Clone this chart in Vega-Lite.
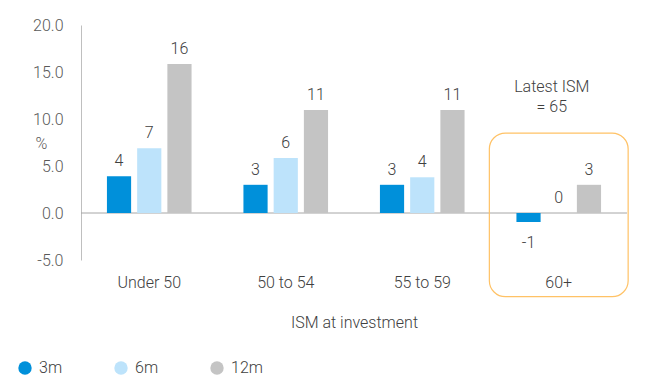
{
  "$schema": "https://vega.github.io/schema/vega-lite/v6.json",
  "width": 546,
  "height": 235,
  "autosize": {"type": "none"},
  "padding": {"left": 81, "top": 25, "right": 30, "bottom": 132},
  "config": {
    "font": "Roboto",
    "view": {"stroke": null},
    "locale": {"number": {"decimal": ".", "thousands": ",", "grouping": [3], "currency": ["$", ""], "minus": "-"}}
  },
  "data": {
    "values": [
      {"cat": "Under 50", "series": "3m", "value": 3.9},
      {"cat": "Under 50", "series": "6m", "value": 6.9},
      {"cat": "Under 50", "series": "12m", "value": 15.85},
      {"cat": "50 to 54", "series": "3m", "value": 3.0},
      {"cat": "50 to 54", "series": "6m", "value": 5.85},
      {"cat": "50 to 54", "series": "12m", "value": 10.95},
      {"cat": "55 to 59", "series": "3m", "value": 3.0},
      {"cat": "55 to 59", "series": "6m", "value": 3.8},
      {"cat": "55 to 59", "series": "12m", "value": 10.95},
      {"cat": "60+", "series": "3m", "value": -0.96},
      {"cat": "60+", "series": "6m", "value": 0},
      {"cat": "60+", "series": "12m", "value": 3.0}
    ]
  },
  "encoding": {
    "x": {
      "field": "cat", "type": "nominal",
      "sort": ["Under 50", "50 to 54", "55 to 59", "60+"],
      "scale": {"paddingInner": 0.38, "paddingOuter": 0.19},
      "axis": {
        "title": "ISM at investment", "domain": false, "ticks": false, "labelAngle": 0,
        "labelFontSize": 16, "labelColor": "#404040", "labelFontWeight": 300, "labelPadding": 14,
        "titleFontSize": 16, "titleColor": "#404040", "titleFontWeight": 300, "titlePadding": 24
      }
    }
  },
  "layer": [
    {
      "data": {"values": [{}]},
      "mark": {"type": "rule", "color": "#A6A6A6", "strokeWidth": 1},
      "encoding": {"x": null, "y": {"datum": 0, "type": "quantitative"}}
    },
    {
      "mark": {"type": "bar"},
      "encoding": {
        "xOffset": {"field": "series", "type": "nominal", "sort": ["3m", "6m", "12m"], "scale": {"paddingInner": 0.2}},
        "y": {
          "field": "value", "type": "quantitative",
          "scale": {"domain": [-5, 20], "nice": false, "zero": false},
          "axis": {
            "values": [-5, 0, 5, 10, 15, 20], "format": ".1f", "grid": false, "ticks": false,
            "domainColor": "#BFBFBF", "labelFontSize": 16, "labelColor": "#595959", "labelFontWeight": 300,
            "labelPadding": 18, "title": "%", "titleAngle": 0, "titleX": -40, "titleY": 118,
            "titleAlign": "center", "titleBaseline": "middle",
            "titleFontSize": 16, "titleColor": "#595959", "titleFontWeight": 300
          }
        },
        "color": {
          "field": "series", "type": "nominal", "sort": ["3m", "6m", "12m"],
          "scale": {"domain": ["3m", "6m", "12m"], "range": ["#0090DA", "#BDE3FB", "#C4C4C4"]},
          "legend": {
            "title": null, "orient": "none", "direction": "horizontal", "legendX": -64, "legendY": 335,
            "symbolType": "circle", "symbolSize": 180, "symbolStrokeWidth": 0, "symbolOpacity": 1,
            "labelFontSize": 16, "labelColor": "#404040", "labelFontWeight": 300, "labelOffset": 6,
            "columnPadding": 50
          }
        }
      }
    },
    {
      "transform": [{"filter": "datum.value >= 0"}],
      "mark": {"type": "text", "fontSize": 16, "fontWeight": 300, "color": "#404040", "baseline": "alphabetic", "dy": -10},
      "encoding": {
        "xOffset": {"field": "series", "type": "nominal", "sort": ["3m", "6m", "12m"], "scale": {"paddingInner": 0.2}},
        "y": {"field": "value", "type": "quantitative"},
        "text": {"field": "value", "type": "quantitative", "format": ".0f"}
      }
    },
    {
      "transform": [{"filter": "datum.value < 0"}],
      "mark": {"type": "text", "fontSize": 16, "fontWeight": 300, "color": "#404040", "baseline": "top", "dy": 13},
      "encoding": {
        "xOffset": {"field": "series", "type": "nominal", "sort": ["3m", "6m", "12m"], "scale": {"paddingInner": 0.2}},
        "y": {"field": "value", "type": "quantitative"},
        "text": {"field": "value", "type": "quantitative", "format": ".0f"}
      }
    },
    {
      "data": {"values": [{}]},
      "mark": {"type": "rect", "fill": null, "fillOpacity": 0, "stroke": "#FFC266", "strokeWidth": 1.2, "cornerRadius": 16, "width": {"band": 1.64}, "clip": false},
      "encoding": {
        "x": {"datum": "60+"},
        "y": {"datum": 8.5, "type": "quantitative"},
        "y2": {"datum": -8.9}
      }
    },
    {
      "data": {"values": [{}]},
      "mark": {"type": "text", "fontSize": 16, "fontWeight": 300, "color": "#404040", "baseline": "alphabetic", "lineHeight": 20, "dx": -7},
      "encoding": {
        "x": {"datum": "60+"},
        "y": {"datum": 12.9, "type": "quantitative"},
        "text": {"value": ["Latest ISM", "= 65"]}
      }
    }
  ]
}
